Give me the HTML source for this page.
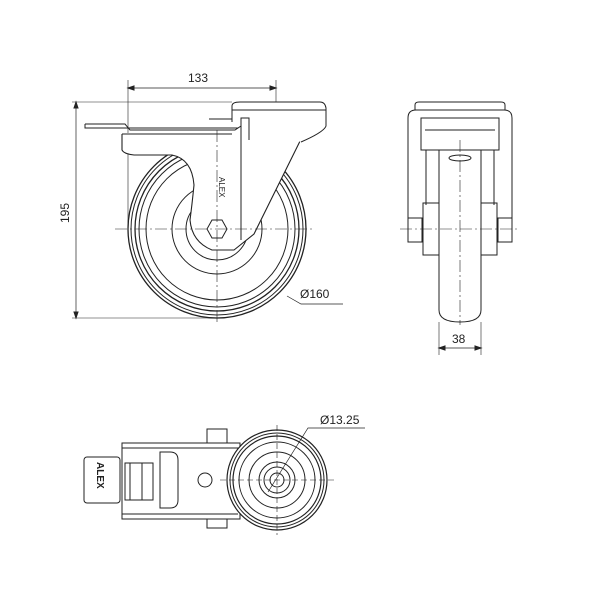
<!DOCTYPE html>
<html><head><style>body{margin:0;background:#fff}svg{display:block}</style></head><body>
<svg width="600" height="600" viewBox="0 0 600 600" xmlns="http://www.w3.org/2000/svg" font-family="Liberation Sans, sans-serif">
<g fill="none" stroke="#222" stroke-width="1">
<!-- front view -->
<line x1="128" y1="80" x2="128" y2="230" stroke-width="0.6"/>
<line x1="276" y1="80" x2="276" y2="120" stroke-width="0.6"/>
<line x1="128" y1="88" x2="276" y2="88" stroke-width="0.7"/>
<path d="M128 88l6-2v4zM276 88l-6-2v4z" fill="#222"/>
<line x1="72" y1="102" x2="232" y2="102" stroke-width="0.6"/>
<line x1="72" y1="318" x2="217" y2="318" stroke-width="0.6"/>
<line x1="76" y1="102" x2="76" y2="318" stroke-width="0.7"/>
<path d="M76 102l-2 6h4zM76 318l-2-6h4z" fill="#222"/>
<circle cx="217" cy="229" r="89" stroke-width="1.3"/>
<circle cx="217" cy="229" r="86"/>
<circle cx="217" cy="229" r="82" stroke-width="1.3"/>
<circle cx="217" cy="229" r="78"/>
<circle cx="217" cy="229" r="71"/>
<circle cx="217" cy="229" r="45"/>
<circle cx="217" cy="229" r="31"/>
<path d="M122 134V150q2 4 12 5h38q20 4 22 30q-2 20 -4 35q2 22 22 30h22l20-16 55-111 -2-4h-98" fill="#fff" stroke-width="1.1"/>
<polygon points="207,229 212,220 222,220 227,229 222,238 212,238" fill="#fff"/>
<path d="M232 122v-16q0-4 8-4h80q5 0 6 6v18q-2 6-25 16" fill="#fff"/>
<line x1="232" y1="110" x2="326" y2="110"/>
<path d="M85 124h40l5 6h105l6-4v-8h8v22" />
<path d="M85 124v4h37" />
<line x1="122" y1="128" x2="238" y2="128"/>
<line x1="122" y1="134" x2="232" y2="134"/>
<line x1="241" y1="118" x2="241" y2="240"/>
<text x="0" y="0" font-size="8" stroke="none" fill="#222" transform="translate(219 177) rotate(90)">ALEX</text>
<line x1="115" y1="229" x2="315" y2="229" stroke-dasharray="12,3,2,3" stroke-width="0.6"/>
<line x1="217" y1="130" x2="217" y2="325" stroke-dasharray="12,3,2,3" stroke-width="0.6"/>
<path d="M287 296l14 8h42" stroke-width="0.7"/>
<text x="300" y="298" font-size="12" stroke="none" fill="#222">Ø160</text>
<text x="188" y="82" font-size="12" stroke="none" fill="#222">133</text>
<text x="0" y="0" font-size="12" stroke="none" fill="#222" transform="translate(69 223) rotate(-90)">195</text>
<!-- side view -->
<path d="M415 110v-5q0-3 4-3h82q4 0 4 3v5"/>
<path d="M408 220V118q0-8 8-8h88q8 0 8 8v102" />
<rect x="421" y="118" width="78" height="32"/>
<line x1="425" y1="130" x2="495" y2="130"/>
<line x1="426" y1="150" x2="426" y2="205"/><line x1="494" y1="150" x2="494" y2="205"/>
<path d="M439 150V310q0 12 21 12t21-12V150"/>
<rect x="423" y="203" width="16" height="52"/><rect x="481" y="203" width="16" height="52"/>
<rect x="408" y="218" width="14" height="24"/><rect x="498" y="218" width="14" height="24"/>
<ellipse cx="460" cy="158" rx="11" ry="3"/>
<line x1="400" y1="229" x2="520" y2="229" stroke-dasharray="12,3,2,3" stroke-width="0.6"/>
<line x1="460" y1="140" x2="460" y2="325" stroke-dasharray="12,3,2,3" stroke-width="0.6"/>
<line x1="439" y1="322" x2="439" y2="355" stroke-width="0.6"/><line x1="481" y1="322" x2="481" y2="355" stroke-width="0.6"/>
<line x1="439" y1="348" x2="481" y2="348" stroke-width="0.7"/>
<path d="M439 348l6-2v4zM481 348l-6-2v4z" fill="#222"/>
<text x="452" y="343" font-size="12" stroke="none" fill="#222">38</text>
<!-- bottom view -->
<rect x="207" y="429" width="20" height="14"/><rect x="207" y="519" width="20" height="9"/>
<rect x="122" y="443" width="118" height="76" fill="#fff"/>
<line x1="122" y1="448" x2="238" y2="448"/><line x1="122" y1="514" x2="238" y2="514"/>
<rect x="84" y="457" width="36" height="46" rx="3"/>
<path d="M160 452h10q8 0 8 8v40q0 8-8 8h-10z"/>
<rect x="125" y="463" width="28" height="37"/>
<line x1="130" y1="463" x2="130" y2="500"/><line x1="142" y1="463" x2="142" y2="500"/>
<text x="0" y="0" font-size="10" font-weight="bold" stroke="none" fill="#222" transform="translate(97 462) rotate(90)">ALEX</text>
<circle cx="205" cy="480" r="7"/>
<circle cx="277" cy="480" r="50" fill="#fff" stroke-width="1.2"/>
<circle cx="277" cy="480" r="47"/><circle cx="277" cy="480" r="44" stroke-width="1.2"/>
<circle cx="277" cy="480" r="38"/><circle cx="277" cy="480" r="28"/>
<circle cx="277" cy="480" r="18"/><circle cx="277" cy="480" r="13"/><circle cx="277" cy="480" r="7"/>
<line x1="220" y1="480" x2="335" y2="480" stroke-dasharray="6,3" stroke-width="0.6"/>
<line x1="277" y1="425" x2="277" y2="535" stroke-dasharray="6,3" stroke-width="0.6"/>
<path d="M268 492l40-64h57" stroke-width="0.7"/>
<text x="320" y="424" font-size="12" stroke="none" fill="#222">Ø13.25</text>
</g>
</svg>
</body></html>
